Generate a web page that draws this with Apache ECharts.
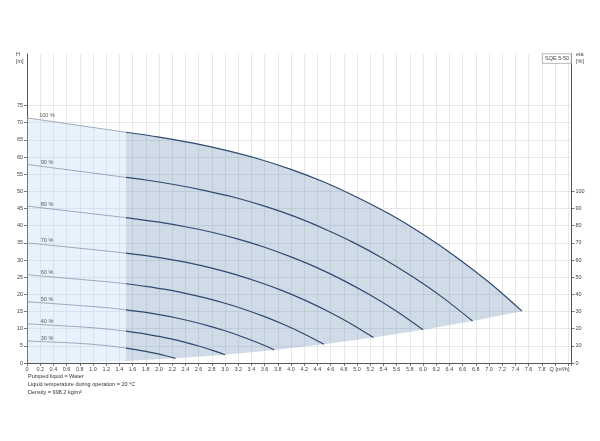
<!DOCTYPE html>
<html><head><meta charset="utf-8">
<script src="https://cdn.jsdelivr.net/npm/echarts@6/dist/echarts.min.js"></script>
<style>html,body{margin:0;padding:0;background:#fff}#c{width:600px;height:441px}</style>
</head><body><div id="c"></div>
<script>
// Speed curve names
const speedNames = ['100 %','90 %','80 %','70 %','60 %','50 %','40 %','30 %'];
// Curve parts for Q <= 1.5 (light) and Q >= 1.5 (dark), [Q m3/h, H m]
const c100Low  = [[0,71.4],[0.5,70.0],[1.0,68.6],[1.5,67.2]];
const c100High = [[1.5,67.2],[2.0,65.8],[2.5,64.1],[3.0,62.0],[3.5,59.5],[4.0,56.4],[4.5,52.7],[5.0,48.3],[5.5,43.3],[6.0,37.5],[6.5,30.9],[7.0,23.5],[7.5,15.1]];
const c90Low   = [[0,57.83],[0.45,56.7],[0.9,55.57],[1.35,54.43],[1.5,54.05]];
const c90High  = [[1.5,54.05],[1.8,53.3],[2.25,51.92],[2.7,50.22],[3.15,48.2],[3.6,45.68],[4.05,42.69],[4.5,39.12],[4.95,35.07],[5.4,30.38],[5.85,25.03],[6.3,19.04],[6.75,12.23]];
const c80Low   = [[0,45.7],[0.4,44.8],[0.8,43.9],[1.2,43.01],[1.5,42.34]];
const c80High  = [[1.5,42.34],[2.0,41.02],[2.4,39.68],[2.8,38.08],[3.2,36.1],[3.6,33.73],[4.0,30.91],[4.4,27.71],[4.8,24.0],[5.2,19.78],[5.6,15.04],[6.0,9.66]];
const c70Low   = [[0,34.99],[0.35,34.3],[0.7,33.61],[1.05,32.93],[1.5,32.0]];
const c70High  = [[1.5,32.0],[1.75,31.41],[2.1,30.38],[2.45,29.16],[2.8,27.64],[3.15,25.82],[3.5,23.67],[3.85,21.22],[4.2,18.38],[4.55,15.14],[4.9,11.52],[5.25,7.4]];
const c60Low   = [[0,25.7],[0.3,25.2],[0.6,24.7],[0.9,24.19],[1.2,23.69],[1.5,23.08]];
const c60High  = [[1.5,23.08],[1.8,22.32],[2.1,21.42],[2.4,20.3],[2.7,18.97],[3.0,17.39],[3.3,15.59],[3.6,13.5],[3.9,11.12],[4.2,8.46],[4.5,5.44]];
const c50Low   = [[0,17.85],[0.25,17.5],[0.5,17.15],[0.75,16.8],[1.0,16.45],[1.25,16.03],[1.5,15.5]];
const c50High  = [[1.5,15.5],[1.75,14.88],[2.0,14.1],[2.25,13.18],[2.5,12.08],[2.75,10.83],[3.0,9.38],[3.25,7.73],[3.5,5.88],[3.75,3.78]];
const c40Low   = [[0,11.42],[0.2,11.2],[0.4,10.98],[0.6,10.75],[0.8,10.53],[1.0,10.26],[1.2,9.92],[1.5,9.27]];
const c40High  = [[1.5,9.27],[1.8,8.43],[2.0,7.73],[2.2,6.93],[2.4,6.0],[2.6,4.94],[2.8,3.76],[3.0,2.42]];
const c30Low   = [[0,6.43],[0.3,6.17],[0.6,5.92],[0.9,5.58],[1.2,5.08],[1.35,4.74],[1.5,4.35]];
const c30High  = [[1.5,4.35],[1.65,3.9],[1.8,3.38],[1.95,2.78],[2.1,2.12],[2.25,1.36]];
// Lower limit of operating range (edge of shading)
const minLimit = [[0,0],[0.75,0.15],[1.5,0.6],[2.25,1.36],[3.0,2.42],[3.75,3.78],[4.5,5.44],[5.25,7.4],[6.0,9.66],[6.75,12.23],[7.5,15.1]];
// Tick labels
const hTickValues = [0,5,10,15,20,25,30,35,40,45,50,55,60,65,70,75];
const etaTickValues = [0,10,20,30,40,50,60,70,80,90,100];
const qAxisName = 'Q [m³/h]';
const noteLines = ['Pumped liquid = Water','Liquid temperature during operation = 20 °C','Density = 998.2 kg/m³'];

const lowParts = [c100Low,c90Low,c80Low,c70Low,c60Low,c50Low,c40Low,c30Low];
const highParts = [c100High,c90High,c80High,c70High,c60High,c50High,c40High,c30High];

const chart = echarts.init(document.getElementById('c'), null, {renderer:'canvas'});
const FONT = 'Liberation Sans, Arial, sans-serif';
const FS = 5.5;

function polygonSeries(points, color){
  return {
    type:'custom', coordinateSystem:'cartesian2d', silent:true, z:1,
    encode:{x:0,y:1}, data:[points[0]],
    renderItem:(params, api) => ({
      type:'polygon',
      shape:{points: points.map(p => api.coord(p))},
      style:{fill: color}
    })
  };
}
const lowerPart1 = minLimit.filter(p => p[0] <= 1.5).reverse();
const lowerPart2 = minLimit.filter(p => p[0] >= 1.5).reverse();
const series = [];
series.push(polygonSeries(c100Low.concat(lowerPart1), 'rgba(175,212,245,0.3)'));
series.push(polygonSeries(c100High.concat(lowerPart2), 'rgba(95,135,175,0.3)'));
lowParts.forEach((d,i) => series.push({
  type:'line', name:speedNames[i]+'a', data:d, showSymbol:false, smooth:0.3, silent:true, z:3,
  lineStyle:{color:'#8797aa', width:0.8}
}));
highParts.forEach((d,i) => series.push({
  type:'line', name:speedNames[i]+'b', data:d, showSymbol:false, smooth:0.3, silent:true, z:3,
  lineStyle:{color:'#2e4a70', width:1.2}
}));
series.push({
  type:'scatter', silent:true, z:5, symbolSize:2,
  itemStyle:{color:'rgba(0,0,0,0)'},
  data: lowParts.map((d,i) => ({name:speedNames[i], value:d[0]})),
  label:{show:true, formatter:p => p.name, position:'inside', offset:[20,-2],
    fontSize:FS, color:'#333', fontFamily:FONT}
});

function fmtQ(v){
  const r = Math.round(v*10)/10;
  if (r > 8.05) return '';
  if (Math.abs(r-8.0) < 1e-6) return '{q|' + qAxisName + '}';
  return r === 0 ? '0' : r.toFixed(1);
}

chart.setOption({
  animation:false,
  backgroundColor:'#fff',
  grid:{left:27, right:28.5, top:54, bottom:78},
  xAxis:{type:'value', min:0, max:8.25, interval:0.2,
    axisLine:{onZero:false, lineStyle:{color:'#555', width:1}},
    axisTick:{show:true, length:3, lineStyle:{color:'#555', width:0.8}},
    axisLabel:{fontSize:FS, color:'#444', margin:3, fontFamily:FONT, formatter:fmtQ, hideOverlap:false,
      rich:{q:{fontSize:FS, color:'#444', fontFamily:FONT, padding:[0,0,0,9]}}},
    splitLine:{show:true, lineStyle:{color:'#e2e2e2', width:0.8}}
  },
  yAxis:[
    {type:'value', position:'left', min:0, max:90, interval:5,
      axisLine:{show:true, onZero:false, lineStyle:{color:'#555', width:1}},
      axisTick:{show:true, length:3, customValues:hTickValues, lineStyle:{color:'#555', width:0.8}},
      axisLabel:{fontSize:FS, color:'#444', margin:4, fontFamily:FONT, customValues:hTickValues},
      splitLine:{show:true, lineStyle:{color:'#e2e2e2', width:0.8}}
    },
    {type:'value', position:'right', min:0, max:180, interval:10,
      axisLine:{show:true, onZero:false, lineStyle:{color:'#555', width:1}},
      axisTick:{show:true, length:3, customValues:etaTickValues, lineStyle:{color:'#555', width:0.8}},
      axisLabel:{fontSize:FS, color:'#444', margin:4, fontFamily:FONT, customValues:etaTickValues},
      splitLine:{show:false}
    }
  ],
  graphic:[
    {type:'text', left:16, top:51, style:{text:'H\n[m]', fontSize:FS, lineHeight:7, fill:'#444', font:FS+'px '+FONT, align:'center'}},
    {type:'text', left:576, top:51, style:{text:'eta\n[%]', fontSize:FS, lineHeight:7, fill:'#444', font:FS+'px '+FONT}},
    {type:'rect', left:542, top:53.5, shape:{width:29, height:9.5}, style:{fill:'#fff', stroke:'#999', lineWidth:0.7}, z:10},
    {type:'text', left:545, top:55.5, style:{text:'SQE 5-50', fill:'#444', font:FS+'px '+FONT}, z:11},
    {type:'text', left:28, top:372.5, style:{text:noteLines.join('\n'), lineHeight:8, fill:'#333', font:FS+'px '+FONT}}
  ],
  series
});
</script></body></html>
